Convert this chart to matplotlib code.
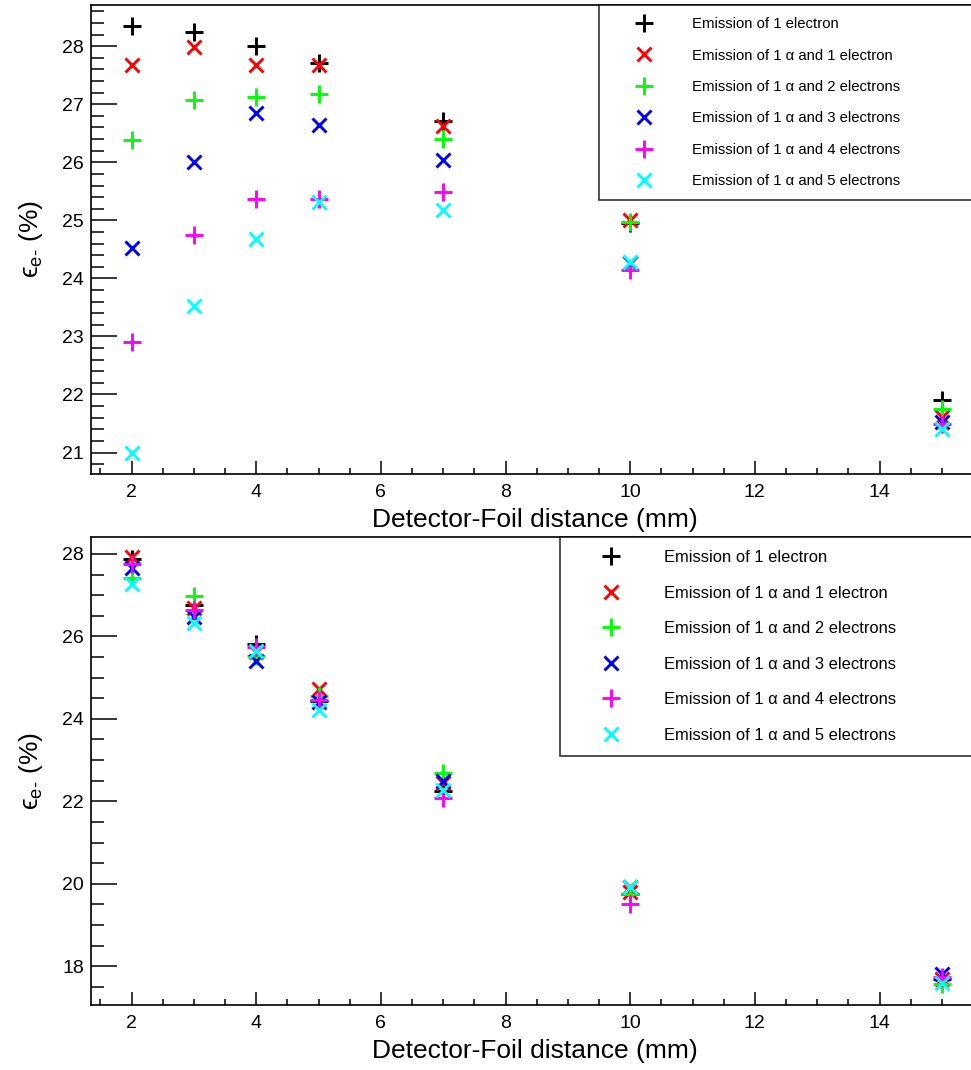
import numpy as np
import matplotlib
matplotlib.use("Agg")
import matplotlib.pyplot as plt
from matplotlib.ticker import MultipleLocator

plt.rcParams["font.family"] = ["Liberation Sans", "DejaVu Sans"]
plt.rcParams["mathtext.fontset"] = "custom"
plt.rcParams["mathtext.rm"] = "Liberation Sans"

# ── Data ──────────────────────────────────────────────────────────
distance = [2, 3, 4, 5, 7, 10, 15]

labels = [
    "Emission of 1 electron",
    "Emission of 1 \u03b1 and 1 electron",
    "Emission of 1 \u03b1 and 2 electrons",
    "Emission of 1 \u03b1 and 3 electrons",
    "Emission of 1 \u03b1 and 4 electrons",
    "Emission of 1 \u03b1 and 5 electrons",
]

# top panel
top_e1 = [28.34, 28.24, 28.00, 27.71, 26.72, 24.95, 21.91]
top_a1e1 = [27.67, 27.98, 27.67, 27.67, 26.63, 25.00, 21.61]
top_a1e2 = [26.38, 27.07, 27.13, 27.17, 26.41, 24.98, 21.75]
top_a1e3 = [24.53, 26.01, 26.85, 26.64, 26.04, 24.27, 21.53]
top_a1e4 = [22.90, 24.75, 25.36, 25.37, 25.48, 24.15, 21.50]
top_a1e5 = [21.00, 23.53, 24.68, 25.31, 25.18, 24.29, 21.41]

# bottom panel
bot_e1 = [27.88, 26.75, 25.82, 24.44, 22.26, 19.76, 17.70]
bot_a1e1 = [27.93, 26.69, 25.62, 24.73, 22.44, 19.80, 17.68]
bot_a1e2 = [27.42, 26.97, 25.53, 24.56, 22.68, 19.75, 17.57]
bot_a1e3 = [27.66, 26.47, 25.41, 24.42, 22.50, 19.92, 17.80]
bot_a1e4 = [27.76, 26.63, 25.74, 24.45, 22.09, 19.50, 17.75]
bot_a1e5 = [27.28, 26.33, 25.64, 24.22, 22.28, 19.92, 17.59]

colors = ["#000000", "#ff0000", "#00ff00", "#0000ff", "#ff00ff", "#00ffff"]
markers = ["+", "x", "+", "x", "+", "x"]

top_series = [top_e1, top_a1e1, top_a1e2, top_a1e3, top_a1e4, top_a1e5]
bot_series = [bot_e1, bot_a1e1, bot_a1e2, bot_a1e3, bot_a1e4, bot_a1e5]

# ── Figure ────────────────────────────────────────────────────────
W, H = 971, 1070
fig = plt.figure(figsize=(W / 100, H / 100), dpi=100, facecolor="white")

ax_top = fig.add_axes([91 / W, 1 - 474 / H, 882 / W, 469 / H])
ax_bot = fig.add_axes([91 / W, 1 - 1005 / H, 882 / W, 468 / H])


def draw_panel(ax, series, ylim, ymajor, yminor, leg_box, leg_fs, leg_space,
               leg_pad, leg_hlen, leg_htp):
    for vals, c, m, lab in zip(series, colors, markers, labels):
        ms = 12.5 if m == "+" else 9.8
        ax.plot(distance, vals, linestyle="none", marker=m, color=c,
                markersize=ms, markeredgewidth=2.1, label=lab)

    ax.set_xlim(1.35, 15.5)
    ax.set_ylim(*ylim)
    ax.xaxis.set_major_locator(MultipleLocator(2))
    ax.xaxis.set_minor_locator(MultipleLocator(0.5))
    ax.yaxis.set_major_locator(MultipleLocator(ymajor))
    ax.yaxis.set_minor_locator(MultipleLocator(yminor))

    ax.spines["right"].set_visible(False)
    for s in ("left", "bottom", "top"):
        ax.spines[s].set_linewidth(1.2)

    ax.tick_params(axis="y", which="major", direction="in", length=19,
                   width=1.1, labelsize=14, pad=5)
    ax.tick_params(axis="y", which="minor", direction="in", length=9.5,
                   width=1.1)
    ax.tick_params(axis="x", which="major", direction="in", length=9.5,
                   width=1.1, labelsize=14, pad=7)
    ax.tick_params(axis="x", which="minor", direction="in", length=4.5,
                   width=1.1)

    ax.set_xlabel("Detector-Foil distance (mm)", fontsize=19)
    ax.xaxis.set_label_coords(0.503, -0.072)
    ax.set_ylabel("\u03f5$_{\\mathrm{e}\\text{-}}$ (%)", fontsize=19)
    ax.yaxis.set_label_coords(-0.052, 0.5)

    leg = ax.legend(loc="upper left", bbox_to_anchor=leg_box, mode="expand",
                    borderaxespad=0, fontsize=leg_fs, frameon=True,
                    fancybox=False, edgecolor="black", numpoints=1,
                    labelspacing=leg_space, handlelength=leg_hlen,
                    handletextpad=leg_htp, borderpad=leg_pad)
    leg.get_frame().set_linewidth(1.2)


draw_panel(ax_top, top_series, (20.63, 28.71), 1, 0.2,
           (0.576, 0.0, 0.43, 1.0), 10.7, 1.17, 0.82, 4.46, 0.97)
draw_panel(ax_bot, bot_series, (17.06, 28.41), 2, 0.5,
           (0.532, 0.0, 0.475, 1.0), 11.9, 1.24, 0.79, 4.52, 0.94)

fig.savefig("out.png", dpi=100, facecolor="white")
